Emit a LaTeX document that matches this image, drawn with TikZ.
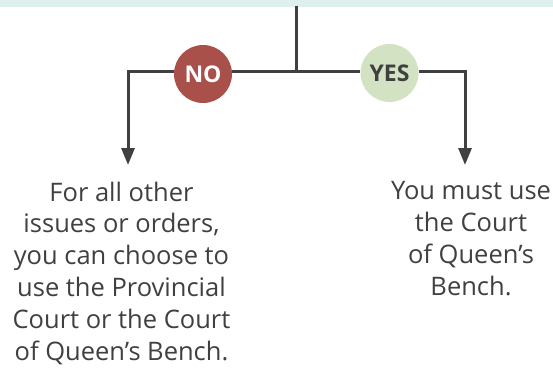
\documentclass[tikz,border=0pt]{standalone}
\usepackage{fontspec}
\setmainfont{Open Sans}
\usetikzlibrary{arrows.meta}
\definecolor{band}{HTML}{DDF0EE}
\definecolor{ink}{HTML}{404040}
\definecolor{nored}{HTML}{A9504A}
\definecolor{yesgreen}{HTML}{D3E2C3}
\tikzset{
  conn/.style={draw=ink, line width=3pt},
  arr/.style={conn, -{Triangle[length=17pt,width=13pt]}},
  badge/.style={circle, minimum size=58pt, inner sep=0pt, font=\fontsize{23}{23}\selectfont\bfseries},
  body/.style={align=center, text=ink, font=\fontsize{25.5}{31.8}\selectfont, inner sep=0pt, anchor=north}
}
\begin{document}
\begin{tikzpicture}[x=1pt,y=-1pt]
\useasboundingbox (0,0) rectangle (553,367);
\fill[band] (0,0) rectangle (553,7);
\coordinate (top) at (296,6);
\coordinate (j) at (296,71);
\node[badge, fill=nored, text=white] (no) at (203,74) {NO};
\node[badge, fill=yesgreen, text=ink] (yes) at (389.5,73) {YES};
\coordinate (lend) at (128,165);
\coordinate (rend) at (465,165);
\draw[conn] (top) -- (j);
\draw[conn] (j) -- (no.east |- j);
\draw[conn] (j) -- (yes.west |- j);
\draw[arr] (no.west |- j) -| (lend);
\draw[arr] (yes.east |- j) -| (rend);
\node[body] (ltext) at (121.5,181.5) {For all other\\issues or orders,\\you can choose to\\use the Provincial\\Court or the Court\\of Queen’s Bench.};
\node[body] (rtext) at (471,181.5) {You must use\\the Court\\of Queen’s\\Bench.};
\end{tikzpicture}
\end{document}
